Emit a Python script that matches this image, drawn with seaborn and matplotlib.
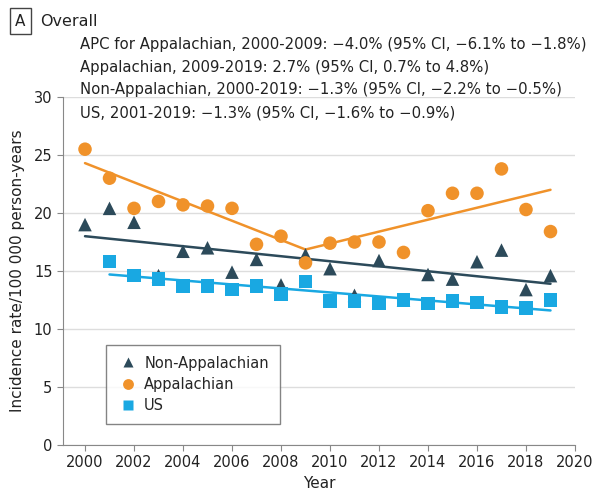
import matplotlib.pyplot as plt
import seaborn as sns
import pandas as pd

# 数据
years = list(range(2000, 2020))
appalachian = [25.5, 23.0, 20.4, 21.0, 20.7, 20.6, 20.4, 17.3, 18.0, 15.7,
               17.4, 17.5, 17.5, 16.6, 20.2, 21.7, 21.7, 23.8, 20.3, 18.4]
non_appalachian = [19.0, 20.4, 19.2, 14.6, 16.7, 17.0, 14.9, 16.0, 13.8, 16.4,
                   15.2, 12.9, 15.9, 12.5, 14.7, 14.3, 15.8, 16.8, 13.4, 14.6]
us_years = list(range(2001, 2020))
us = [15.8, 14.6, 14.3, 13.7, 13.7, 13.4, 13.7, 13.0, 14.1,
      12.4, 12.4, 12.2, 12.5, 12.2, 12.4, 12.3, 11.9, 11.8, 12.5]

# joinpoint fitted lines (breakpoints)
fit_app_years = [2000, 2009, 2019]
fit_app = [24.3, 16.85, 22.0]
fit_non_years = [2000, 2019]
fit_non = [18.0, 13.9]
fit_us_years = [2001, 2019]
fit_us = [14.7, 11.6]

apc_lines = [
    "APC for Appalachian, 2000-2009: \u22124.0% (95% CI, \u22126.1% to \u22121.8%)",
    "Appalachian, 2009-2019: 2.7% (95% CI, 0.7% to 4.8%)",
    "Non-Appalachian, 2000-2019: \u22121.3% (95% CI, \u22122.2% to \u22120.5%)",
    "US, 2001-2019: \u22121.3% (95% CI, \u22121.6% to \u22120.9%)",
]

colors = {"Non-Appalachian": "#2c4a5a", "Appalachian": "#f0922a", "US": "#19a8e2"}
markers = {"Non-Appalachian": "^", "Appalachian": "o", "US": "s"}
order = ["Non-Appalachian", "Appalachian", "US"]

pts = pd.concat([
    pd.DataFrame({"Year": years, "Rate": non_appalachian, "Group": "Non-Appalachian"}),
    pd.DataFrame({"Year": years, "Rate": appalachian, "Group": "Appalachian"}),
    pd.DataFrame({"Year": us_years, "Rate": us, "Group": "US"}),
])
fits = pd.concat([
    pd.DataFrame({"Year": fit_non_years, "Rate": fit_non, "Group": "Non-Appalachian"}),
    pd.DataFrame({"Year": fit_app_years, "Rate": fit_app, "Group": "Appalachian"}),
    pd.DataFrame({"Year": fit_us_years, "Rate": fit_us, "Group": "US"}),
])

sns.set_style("white")
plt.rcParams["font.family"] = ["DejaVu Sans"]

fig = plt.figure(figsize=(5.94, 5.0), dpi=100)
ax = fig.add_axes([0.106, 0.11, 0.862, 0.696])

sns.scatterplot(data=pts, x="Year", y="Rate", hue="Group", style="Group",
                hue_order=order, style_order=order, palette=colors, markers=markers,
                s=95, edgecolor="none", ax=ax, zorder=3)
sns.lineplot(data=fits, x="Year", y="Rate", hue="Group", hue_order=order,
             palette=colors, lw=1.8, ax=ax, legend=False, zorder=2)

ax.set_xlim(1999.1, 2020)
ax.set_ylim(0, 30)
ax.set_xticks(range(2000, 2021, 2))
ax.set_yticks(range(0, 31, 5))
ax.yaxis.grid(True, color="#dddddd", lw=1)
ax.set_axisbelow(True)
for s in ["top", "right"]:
    ax.spines[s].set_visible(False)
for s in ["left", "bottom"]:
    ax.spines[s].set_color("#888888")
ax.tick_params(axis="both", which="both", direction="out", length=4,
               color="#888888", labelsize=10.5, labelcolor="#222222")
ax.tick_params(axis="y", left=True)
ax.tick_params(axis="x", bottom=True)
ax.set_xlabel("Year", fontsize=11, color="#222222", loc="center")
ax.set_ylabel("Incidence rate/100 000 person-years", fontsize=11, color="#222222",
              labelpad=6)

handles, labels = ax.get_legend_handles_labels()
leg = ax.legend(handles, labels, loc="lower left", bbox_to_anchor=(0.069, 0.04),
                frameon=True, fancybox=False, edgecolor="#666666", fontsize=10.5,
                handletextpad=0.3, labelspacing=0.42, borderpad=0.75,
                markerscale=0.8, handlelength=1.6)
leg.get_frame().set_linewidth(1)

# header
fig.text(0.034, 0.958, "A", fontsize=11, ha="center", va="center", color="#222222",
         bbox=dict(boxstyle="square,pad=0.35", fc="white", ec="#444444", lw=1))
fig.text(0.068, 0.958, "Overall", fontsize=11.5, va="center", color="#222222")
for i, line in enumerate(apc_lines):
    fig.text(0.135, 0.91 - i * 0.045, line, fontsize=10.7, va="center", color="#222222")

fig.savefig("out.png", dpi=100)
